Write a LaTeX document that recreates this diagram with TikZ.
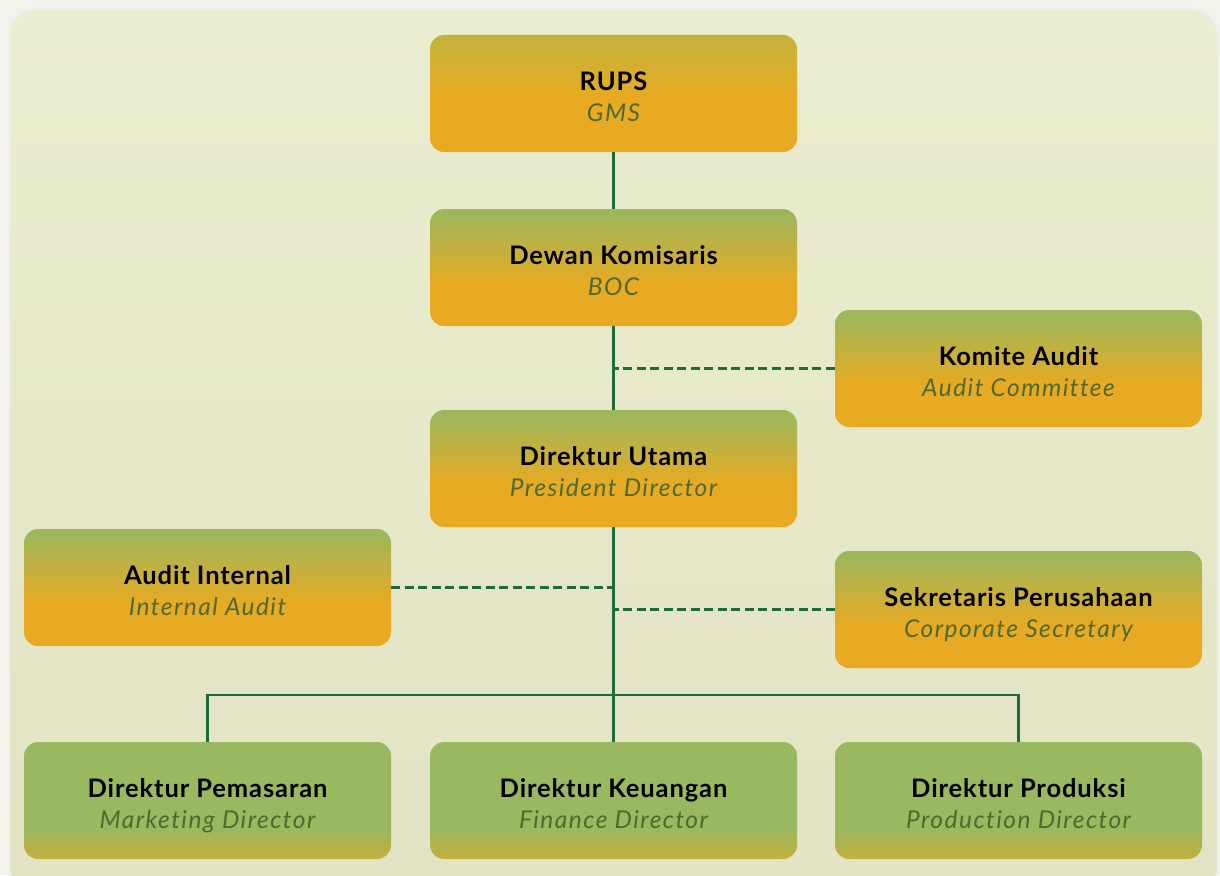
\documentclass[tikz,border=0pt]{standalone}
\usepackage{fontspec}
\setmainfont{Lato}
\newfontfamily\titlefont{Lato}[UprightFont=* Bold, LetterSpace=3.5]
\newfontfamily\subfont{Lato}[UprightFont=* Italic, LetterSpace=6, Ligatures={NoCommon}]
\definecolor{outerbg}{HTML}{F3F3EB}
\definecolor{paneltop}{HTML}{EBEDD0}
\definecolor{panelbot}{HTML}{E2E3C3}
\definecolor{borange}{HTML}{E8AA22}
\definecolor{bgreen}{HTML}{9EB75C}
\definecolor{bolive}{HTML}{C2B33E}
\definecolor{ggreen}{HTML}{9AB860}
\definecolor{ggold}{HTML}{C3B03B}
\definecolor{linegreen}{HTML}{1D6C3C}
\definecolor{subcol}{HTML}{4E6A2E}
\pgfdeclareverticalshading{orangeshade}{100bp}{color(0bp)=(borange); color(25bp)=(borange); color(43bp)=(borange); color(73bp)=(bgreen); color(100bp)=(bgreen)}
\pgfdeclareverticalshading{rupsshade}{100bp}{color(0bp)=(borange); color(25bp)=(borange); color(49bp)=(borange); color(75bp)=(bolive); color(100bp)=(bolive)}
\pgfdeclareverticalshading{greenshade}{100bp}{color(0bp)=(ggold); color(25bp)=(ggold); color(38bp)=(ggreen); color(100bp)=(ggreen)}
\tikzset{
  box/.style={rounded corners=14pt, minimum width=367pt, minimum height=117pt, inner sep=0pt, draw=none},
  obox/.style={box, shading=orangeshade},
  rbox/.style={box, shading=rupsshade},
  gbox/.style={box, shading=greenshade},
  ttl/.style={anchor=base, inner sep=0pt, font=\titlefont\fontsize{25.5}{28}\selectfont, text=black},
  sub/.style={anchor=base, inner sep=0pt, font=\subfont\fontsize{24.5}{27}\selectfont, text=subcol},
  conn/.style={draw=linegreen, line width=2.7pt},
  dsh/.style={draw=linegreen, line width=2.7pt, dash pattern=on 9pt off 4.5pt},
}
\newcommand\orgbox[6]{%
  \node[#4] (#1) at (#2,#3) {};
  \node[ttl] (#1T) at ([yshift=3pt]#1.center) {#5};
  \node[sub] (#1S) at ([yshift=-28pt]#1.center) {#6};
}
\begin{document}
\begin{tikzpicture}[x=1pt,y=-1pt]
\useasboundingbox (0,0) rectangle (1220,875);
\fill[outerbg] (0,0) rectangle (1220,875);
\fill[black!6,rounded corners=26pt] (7,7) rectangle (1220,895);
\shade[rounded corners=25pt, top color=paneltop, bottom color=panelbot] (10,10) rectangle (1217,892);
\coordinate (bus) at (613,695);
% boxes
\orgbox{rups}{613.5}{93.5}{rbox}{RUPS}{GMS}
\orgbox{boc}{613.5}{267.5}{obox}{Dewan Komisaris}{BOC}
\orgbox{komite}{1018.5}{368.5}{obox}{Komite Audit}{Audit Committee}
\orgbox{dirut}{613.5}{468.5}{obox}{Direktur Utama}{President Director}
\orgbox{audint}{207.5}{587.5}{obox}{Audit Internal}{Internal Audit}
\orgbox{sekper}{1018.5}{609.5}{obox}{Sekretaris Perusahaan}{Corporate Secretary}
\orgbox{mkt}{207.5}{800.5}{gbox}{Direktur Pemasaran}{Marketing Director}
\orgbox{keu}{613.5}{800.5}{gbox}{Direktur Keuangan}{Finance Director}
\orgbox{prod}{1018.5}{800.5}{gbox}{Direktur Produksi}{Production Director}
% connectors
\draw[conn] (rups.south) -- (boc.north);
\draw[conn] (boc.south) -- (dirut.north);
\draw[conn] (dirut.south) -- (keu.north);
\draw[conn] (mkt.north) -- (mkt.north |- bus) -- (prod.north |- bus) -- (prod.north);
\draw[dsh] (komite.west) -- (komite.west -| boc.south);
\draw[dsh] (audint.east) -- (audint.east -| dirut.south);
\draw[dsh] (sekper.west) -- (sekper.west -| dirut.south);
\end{tikzpicture}
\end{document}
